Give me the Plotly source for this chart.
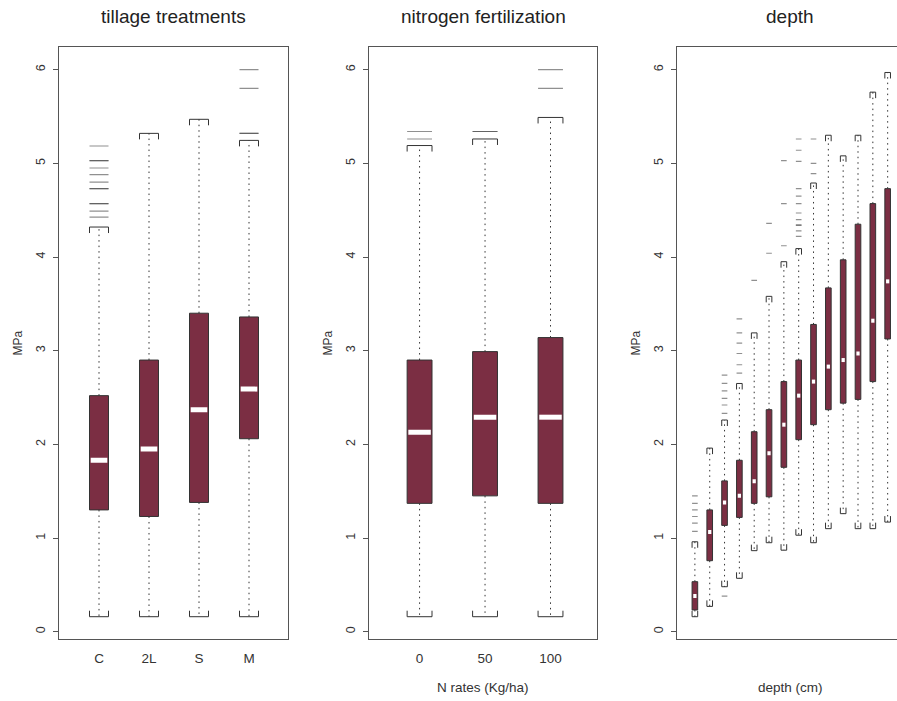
import numpy as np
import plotly.graph_objects as go

# ---------------- data ----------------
tillage_labels = ["C", "2L", "S", "M"]
tillage_q1 = [1.30, 1.23, 1.38, 2.06]
tillage_med = [1.83, 1.95, 2.37, 2.59]
tillage_q3 = [2.52, 2.90, 3.40, 3.36]
tillage_lo = [0.16, 0.16, 0.16, 0.16]
tillage_hi = [4.32, 5.32, 5.47, 5.245]
tillage_out = [
    [4.425, 4.49, 4.57, 4.57, 4.73, 4.73, 4.80, 4.88, 4.95, 5.03, 5.03, 5.185],
    [],
    [],
    [5.32, 5.32, 5.80, 6.00],
]

nitro_labels = ["0", "50", "100"]
nitro_q1 = [1.37, 1.45, 1.37]
nitro_med = [2.13, 2.29, 2.29]
nitro_q3 = [2.90, 2.99, 3.14]
nitro_lo = [0.16, 0.16, 0.16]
nitro_hi = [5.19, 5.26, 5.49]
nitro_out = [[5.26, 5.34], [5.34, 5.34], [5.80, 6.00]]

depth_q1 = [0.232, 0.758, 1.135, 1.22, 1.37, 1.44, 1.755, 2.05, 2.21, 2.37, 2.44, 2.48, 2.67, 3.125]
depth_med = [0.381, 1.064, 1.38, 1.45, 1.605, 1.905, 2.21, 2.52, 2.67, 2.83, 2.90, 2.97, 3.32, 3.74]
depth_q3 = [0.534, 1.30, 1.61, 1.83, 2.135, 2.37, 2.67, 2.90, 3.28, 3.67, 3.97, 4.35, 4.57, 4.73]
depth_lo = [0.16, 0.27, 0.48, 0.57, 0.865, 0.95, 0.87, 1.03, 0.95, 1.10, 1.26, 1.10, 1.10, 1.17]
depth_hi = [0.96, 1.96, 2.26, 2.65, 3.19, 3.58, 3.95, 4.09, 4.79, 5.30, 5.08, 5.30, 5.76, 5.97]
depth_out = [
    [1.07, 1.16, 1.23, 1.30, 1.37, 1.45],
    [],
    [0.38, 2.33, 2.42, 2.49, 2.57, 2.65, 2.74],
    [2.76, 2.85, 2.97, 3.08, 3.19, 3.34],
    [3.75],
    [4.04, 4.36],
    [4.12, 4.57, 5.03],
    [4.22, 4.28, 4.34, 4.34, 4.40, 4.47, 4.57, 4.65, 4.73, 5.02, 5.14, 5.26],
    [4.89, 5.00, 5.26],
    [], [], [], [], [],
]

y_ticks = [0, 1, 2, 3, 4, 5, 6]

# ---------------- style ----------------
W, H = 897, 701
BOX = "#7B2E43"
INK = "#333333"
AX = "#555555"
FONT = "Liberation Sans, Arial, sans-serif"

y_top_px, y_bot_px = 47, 639
y_dom = [1 - y_bot_px / H, 1 - y_top_px / H]
y_rng = [-0.078, 6.242]
px_per_y = (y_bot_px - y_top_px) / (y_rng[1] - y_rng[0])

panels = [
    dict(ax="", x0=58.5, x1=288, rng=[0.19, 4.78], labels=tillage_labels,
         q1=tillage_q1, med=tillage_med, q3=tillage_q3, lo=tillage_lo, hi=tillage_hi,
         out=tillage_out, title="tillage treatments", xtitle=None, right=True, cx=173, mw=5),
    dict(ax="2", x0=368.5, x1=597, rng=[0.22, 3.71], labels=nitro_labels,
         q1=nitro_q1, med=nitro_med, q3=nitro_q3, lo=nitro_lo, hi=nitro_hi,
         out=nitro_out, title="nitrogen fertilization", xtitle="N rates (Kg/ha)", right=True, cx=483, mw=5),
    dict(ax="3", x0=676.5, x1=897, rng=[-0.24, 14.63], labels=None,
         q1=depth_q1, med=depth_med, q3=depth_q3, lo=depth_lo, hi=depth_hi,
         out=depth_out, title="depth", xtitle="depth (cm)", right=False, cx=790, mw=4),
]

fig = go.Figure()
layout = dict(width=W, height=H, margin=dict(l=0, r=0, t=0, b=0),
              paper_bgcolor="white", plot_bgcolor="white", showlegend=False,
              font=dict(family=FONT, color=INK))
annotations = []

BW = 0.38          # box width in category units
CAP_PX = 6         # staple leg length in px
cap_d = CAP_PX / px_per_y

for p in panels:
    n = len(p["q1"])
    pos = np.arange(1, n + 1, dtype=float)
    q1 = np.array(p["q1"]); q3 = np.array(p["q3"]); med = np.array(p["med"])
    lo = np.array(p["lo"]); hi = np.array(p["hi"])
    xa = "x" + p["ax"]; ya = "y" + p["ax"]
    px_per_x = (p["x1"] - p["x0"]) / (p["rng"][1] - p["rng"][0])
    half = BW / 2
    inset = 1.2 / px_per_x

    # whiskers (dotted)
    wx, wy = [], []
    for i in range(n):
        wx += [pos[i], pos[i], None, pos[i], pos[i], None]
        wy += [q3[i], hi[i], None, q1[i], lo[i], None]
    fig.add_trace(go.Scatter(x=wx, y=wy, mode="lines", xaxis=xa, yaxis=ya,
                             line=dict(color=INK, width=1, dash="1.5px,4px"),
                             hoverinfo="skip"))
    # staples (bracket shaped)
    sx, sy = [], []
    for i in range(n):
        sx += [pos[i] - half, pos[i] - half, pos[i] + half, pos[i] + half, None]
        sy += [hi[i] - cap_d, hi[i], hi[i], hi[i] - cap_d, None]
        sx += [pos[i] - half, pos[i] - half, pos[i] + half, pos[i] + half, None]
        sy += [lo[i] + cap_d, lo[i], lo[i], lo[i] + cap_d, None]
    fig.add_trace(go.Scatter(x=sx, y=sy, mode="lines", xaxis=xa, yaxis=ya,
                             line=dict(color=INK, width=1), hoverinfo="skip"))
    # outliers (short dashes)
    ox, oy = [], []
    for i in range(n):
        for v in p["out"][i]:
            ox += [pos[i] - half, pos[i] + half, None]
            oy += [v, v, None]
    if ox:
        fig.add_trace(go.Scatter(x=ox, y=oy, mode="lines", xaxis=xa, yaxis=ya,
                                 line=dict(color="rgba(70,70,70,0.6)", width=1.2),
                                 hoverinfo="skip"))
    # boxes
    fig.add_trace(go.Bar(x=pos, y=q3 - q1, base=q1, width=BW, xaxis=xa, yaxis=ya,
                         marker=dict(color=BOX, line=dict(color=INK, width=1)),
                         hoverinfo="skip"))
    # medians (white)
    mx, my = [], []
    for i in range(n):
        mx += [pos[i] - half + inset, pos[i] + half - inset, None]
        my += [med[i], med[i], None]
    fig.add_trace(go.Scatter(x=mx, y=my, mode="lines", xaxis=xa, yaxis=ya,
                             line=dict(color="white", width=p["mw"]), hoverinfo="skip"))

    dom = [p["x0"] / W, min(p["x1"] / W, 1.0)]
    xkey = "xaxis" + p["ax"]; ykey = "yaxis" + p["ax"]
    xdef = dict(domain=dom, range=p["rng"], anchor=ya, showgrid=False, zeroline=False,
                showline=True, mirror=True, linecolor=AX, linewidth=1, fixedrange=True)
    if p["labels"] is not None:
        xdef.update(tickmode="array", tickvals=list(pos), ticktext=p["labels"],
                    ticks="", ticklabelstandoff=7,
                    tickfont=dict(size=13.5, color=INK, family=FONT))
    else:
        xdef.update(showticklabels=False, ticks="")
    ydef = dict(domain=y_dom, range=y_rng, anchor=xa, showgrid=False, zeroline=False,
                showline=True, mirror=p["right"], linecolor=AX, linewidth=1,
                tickmode="array", tickvals=y_ticks, ticktext=[str(t) for t in y_ticks],
                ticks="outside", ticklen=5, tickcolor=AX, tickangle=-90,
                ticklabelstandoff=3,
                tickfont=dict(size=12.5, color=INK, family=FONT), fixedrange=True)
    layout[xkey] = xdef
    layout[ykey] = ydef

    annotations.append(dict(text=p["title"], x=p["cx"] / W, y=1 - 16 / H, xref="paper", yref="paper",
                            showarrow=False, xanchor="center", yanchor="middle",
                            font=dict(size=19, color="#222222", family=FONT)))
    annotations.append(dict(text="MPa", x=(p["x0"] - 41) / W, y=1 - 343 / H, xref="paper",
                            yref="paper", showarrow=False, textangle=-90,
                            xanchor="center", yanchor="middle",
                            font=dict(size=12, color=INK, family=FONT)))
    if p["xtitle"]:
        annotations.append(dict(text=p["xtitle"], x=p["cx"] / W, y=1 - 687 / H, xref="paper",
                                yref="paper", showarrow=False, xanchor="center",
                                yanchor="middle",
                                font=dict(size=13.5, color=INK, family=FONT)))

layout["annotations"] = annotations
fig.update_layout(**layout)
fig.write_html("out.html", config={"displayModeBar": False},
               post_script="document.body.style.margin='0';document.body.style.overflow='hidden';")
